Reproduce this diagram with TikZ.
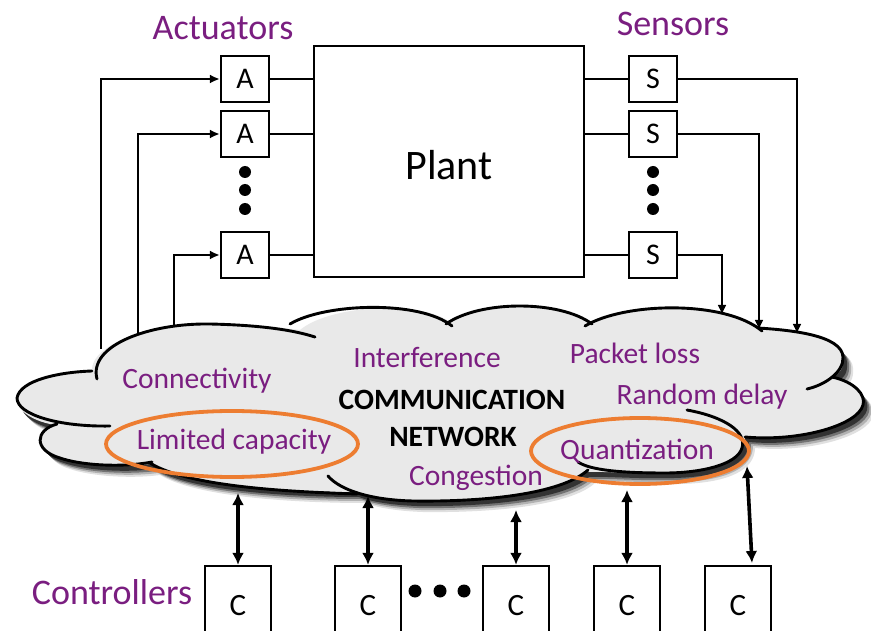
\documentclass[tikz,border=0pt]{standalone}
\usepackage{fontspec}
\setmainfont{Carlito}
\usetikzlibrary{arrows.meta}
\definecolor{purp}{RGB}{122,30,128}
\definecolor{orng}{RGB}{237,125,49}
\definecolor{cloudgray}{RGB}{233,233,233}
\newcommand\cloudoutline{(92,371) .. controls (90,345) and (150,323) .. (210,324)
 .. controls (255,325) and (285,328) .. (300,330)
 .. controls (330,305) and (420,300) .. (450,322)
 .. controls (480,300) and (560,300) .. (590,322)
 .. controls (625,302) and (725,300) .. (760,328)
 .. controls (790,330) and (842,335) .. (843,357)
 .. controls (844,368) and (840,374) .. (832,377)
 .. controls (855,382) and (866,395) .. (863,405)
 .. controls (858,425) and (800,442) .. (745,437)
 .. controls (745,458) and (720,472) .. (670,473)
 .. controls (630,474) and (600,471) .. (585,472)
 .. controls (560,495) and (480,502) .. (413,501)
 .. controls (385,500) and (365,496) .. (355,492)
 .. controls (300,492) and (190,488) .. (150,464)
 .. controls (120,468) and (80,465) .. (60,458)
 .. controls (33,450) and (35,430) .. (55,425)
 .. controls (25,420) and (15,405) .. (17,398)
 .. controls (20,380) and (60,372) .. (92,371) -- cycle}
\begin{document}
\begin{tikzpicture}[x=1pt,y=-1pt,
  unitbox/.style={draw,line width=2.3pt,fill=white,minimum width=48pt,minimum height=46pt,inner sep=0pt,font=\fontsize{30}{34}\selectfont},
  cbox/.style={draw,line width=2.3pt,fill=white,minimum width=66pt,minimum height=80pt,inner sep=0pt,font=\fontsize{31}{34}\selectfont},
  lbl/.style={text=purp,inner sep=0pt,font=\fontsize{36}{40}\selectfont},
  ctxt/.style={text=purp,inner sep=0pt,font=\fontsize{29.5}{34}\selectfont},
  btxt/.style={text=black,inner sep=0pt,font=\fontsize{29.5}{34}\selectfont\bfseries},
  cline/.style={line width=2.9pt,line cap=round},
  plainline/.style={line width=2.3pt},
  sarrow/.style={line width=2.2pt,-{Latex[length=10pt,width=9pt]}},
  darrow/.style={line width=3.6pt,{Latex[length=12pt,width=12pt]}-{Latex[length=12pt,width=12pt]}},
  blackdot/.style={fill=black},
  oring/.style={draw=orng,line width=3.8pt}]
\path[use as bounding box] (0,0) rectangle (871,631);
\clip (0,0) rectangle (871,631);
\fill[white] (0,0) rectangle (871,631);

% cloud shadow and fill
\fill[black!12, shift={(10,11)}] \cloudoutline;
\fill[black!30, shift={(8,9)}] \cloudoutline;
\fill[black!55, shift={(6,7)}] \cloudoutline;
\fill[black!80, shift={(4,5)}] \cloudoutline;
\fill[cloudgray] \cloudoutline;

% cloud strokes
\draw[cline] (110,426) .. controls (60,427) and (17,415) .. (17,398) .. controls (20,380) and (60,372) .. (92,371);
\draw[cline] (97,379) .. controls (88,345) and (150,323) .. (210,324) .. controls (255,325) and (290,329) .. (315,337);
\draw[cline] (290,324) .. controls (325,303) and (420,300) .. (452,326);
\draw[cline] (446,324) .. controls (480,300) and (560,300) .. (592,324);
\draw[cline] (585,326) .. controls (625,302) and (725,300) .. (762,331);
\draw[cline] (758,328) .. controls (790,330) and (842,335) .. (843,357) .. controls (844,372) and (825,385) .. (807,389);
\draw[cline] (832,377) .. controls (855,382) and (866,395) .. (863,405) .. controls (858,425) and (800,442) .. (745,437);
\draw[cline] (687,410) .. controls (725,417) and (747,432) .. (742,448) .. controls (737,465) and (700,473) .. (665,473) .. controls (620,473) and (590,470) .. (578,462);
\draw[cline] (588,470) .. controls (560,495) and (480,502) .. (413,501) .. controls (370,500) and (340,490) .. (328,476);
\draw[cline] (150,463) .. controls (190,488) and (300,492) .. (357,494);
\draw[cline] (57,424) .. controls (35,430) and (33,450) .. (60,458) .. controls (80,465) and (120,468) .. (152,462);

% cloud texts
\node[ctxt] (tconn) at (197,381) {Connectivity};
\node[ctxt] (tinter) at (427,357) {Interference};
\node[ctxt] (tpack) at (635,353) {Packet loss};
\node[ctxt] (trand) at (702,397) {Random delay};
\node[btxt] (tcomm) at (452,400) {COMMUNICATION};
\node[btxt] (tnet) at (453,437) {NETWORK};
\node[ctxt] (tlim) at (234,442) {Limited capacity};
\node[ctxt] (tquant) at (637,451) {Quantization};
\node[ctxt] (tcong) at (476,478) {Congestion};

% orange highlights
\draw[oring] (232,444) ellipse [x radius=126, y radius=33];
\draw[oring] (640,451) ellipse [x radius=109, y radius=33];

% plant, actuators, sensors
\node[draw,line width=2.3pt,minimum width=270pt,minimum height=231pt,inner sep=0pt] (plant) at (449,161.5) {};
\node[inner sep=0pt,font=\fontsize{42}{46}\selectfont] (tplant) at (449,165) {Plant};
\node[unitbox] (A1) at (245,79) {A};
\node[unitbox] (A2) at (245,134) {A};
\node[unitbox] (A3) at (245,255) {A};
\node[unitbox] (S1) at (653,79) {S};
\node[unitbox] (S2) at (653,134) {S};
\node[unitbox] (S3) at (653,255) {S};
\foreach \yy in {172,190,209} {\fill[blackdot] (245,\yy) circle (6); \fill[blackdot] (653,\yy) circle (6);}

\draw[plainline] (A1.east) -- (A1.east -| plant.west);
\draw[plainline] (A2.east) -- (A2.east -| plant.west);
\draw[plainline] (A3.east) -- (A3.east -| plant.west);
\draw[plainline] (S1.west) -- (S1.west -| plant.east);
\draw[plainline] (S2.west) -- (S2.west -| plant.east);
\draw[plainline] (S3.west) -- (S3.west -| plant.east);

\node[lbl] (tact) at (223,28) {Actuators};
\node[lbl] (tsens) at (673,24) {Sensors};
\node[lbl] (tctrl) at (112,592) {Controllers};

% network attachment points
\coordinate (ca1) at (101,349);
\coordinate (ca2) at (138,334);
\coordinate (ca3) at (174,327);
\coordinate (cs1) at (797,334);
\coordinate (cs2) at (759,330);
\coordinate (cs3) at (722,315);
\draw[sarrow] (ca1) |- (A1.west);
\draw[sarrow] (ca2) |- (A2.west);
\draw[sarrow] (ca3) |- (A3.west);
\draw[sarrow] (S1.east) -| (cs1);
\draw[sarrow] (S2.east) -| (cs2);
\draw[sarrow] (S3.east) -| (cs3);

% controllers
\node[cbox] (C1) at (238,606) {C};
\node[cbox] (C2) at (368,606) {C};
\node[cbox] (C3) at (516,606) {C};
\node[cbox] (C4) at (627,606) {C};
\node[cbox] (C5) at (738,606) {C};
\foreach \xx in {415,440,464} {\fill[blackdot] (\xx,591) circle (6.5);}
\coordinate (k1) at (238,493);
\coordinate (k2) at (368,496);
\coordinate (k3) at (516,510);
\coordinate (k4) at (627,490);
\coordinate (k5) at (747,466);
\coordinate (k5b) at (752,563);
\draw[darrow] (k1) -- (C1.north);
\draw[darrow] (k2) -- (C2.north);
\draw[darrow] (k3) -- (C3.north);
\draw[darrow] (k4) -- (C4.north);
\draw[darrow] (k5) -- (k5b);
\end{tikzpicture}
\end{document}
